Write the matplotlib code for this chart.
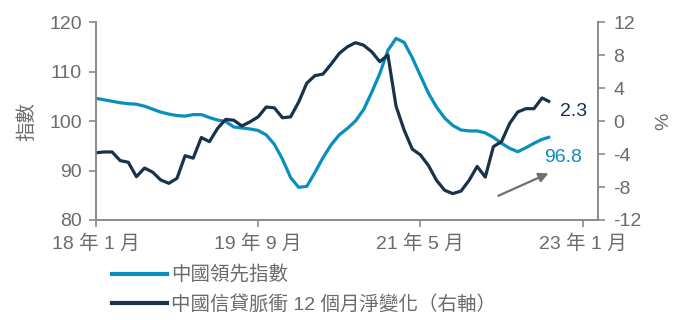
import numpy as np
import matplotlib.pyplot as plt
from matplotlib.lines import Line2D

plt.rcParams['font.family'] = ['Liberation Sans', 'Noto Sans CJK TC']
plt.rcParams['axes.unicode_minus'] = False

# 月份序號：0 = 18年1月
months = np.arange(57)

# 中國領先指數（左軸）
leading_index = [104.6, 104.3, 104.0, 103.7, 103.5, 103.4, 103.0, 102.4, 101.8, 101.4,
                 101.1, 101.0, 101.3, 101.3, 100.7, 100.2, 99.9, 98.8, 98.6, 98.4,
                 98.1, 97.2, 95.3, 92.3, 88.6, 86.6, 86.8, 89.6, 92.6, 95.2,
                 97.2, 98.5, 100.0, 102.3, 105.8, 109.6, 114.3, 116.7, 115.9, 112.8,
                 109.2, 105.6, 102.8, 100.6, 99.1, 98.2, 98.0, 98.0, 97.6, 96.7,
                 95.5, 94.5, 93.8, 94.6, 95.5, 96.3, 96.8]

# 中國信貸脈衝 12 個月淨變化（右軸，%）
credit_impulse = [-3.85, -3.75, -3.75, -4.8, -5.0, -6.75, -5.7, -6.2, -7.15, -7.55,
                  -6.95, -4.2, -4.5, -2.0, -2.5, -0.9, 0.2, 0.1, -0.6, -0.1,
                  0.5, 1.7, 1.6, 0.4, 0.5, 2.3, 4.6, 5.5, 5.7, 6.9,
                  8.2, 9.0, 9.5, 9.2, 8.4, 7.2, 8.0, 1.8, -1.1, -3.4,
                  -4.1, -5.4, -7.2, -8.4, -8.8, -8.5, -7.2, -5.5, -6.8, -3.1,
                  -2.5, -0.3, 1.1, 1.5, 1.5, 2.8, 2.3]

tick_pos = [0, 20, 40, 60]
tick_labels = ['18 年 1 月', '19 年 9 月', '21 年 5 月', '23 年 1 月']

blue = '#0a8dbf'
navy = '#17324a'
grey = '#6b6b6b'
spine = '#8a8a8a'

fig = plt.figure(figsize=(6.75, 3.2), dpi=100)
ax = fig.add_axes([0.142, 0.3125, 0.744, 0.6185])
ax2 = ax.twinx()

ax.plot(months, leading_index, color=blue, lw=2.3, solid_capstyle='butt')
ax2.plot(months, credit_impulse, color=navy, lw=2.3, solid_capstyle='butt')

ax.set_xlim(0, 61.9)
ax.set_ylim(80, 120)
ax.set_yticks([80, 90, 100, 110, 120])
ax2.set_ylim(-12, 12)
ax2.set_yticks([-12, -8, -4, 0, 4, 8, 12])
ax.set_xticks(tick_pos)
ax.set_xticklabels(tick_labels)

for a in (ax, ax2):
    a.spines['top'].set_visible(False)
    for s in ('left', 'right', 'bottom'):
        a.spines[s].set_color(spine)
        a.spines[s].set_linewidth(1.2)
    a.tick_params(colors=grey, labelsize=14, length=5, width=1.2, color=spine)
ax.tick_params(axis='y', pad=5)
ax2.tick_params(axis='y', pad=6)
ax.tick_params(axis='x', pad=5)

ax.set_ylabel('指數', color=grey, fontsize=14, labelpad=9)
ax2.set_ylabel('%', color=grey, fontsize=14, labelpad=10)

# 末值標註
ax2.text(57.2, credit_impulse[-1] - 1.2, '2.3', color=navy, fontsize=14, ha='left', va='center')
ax.text(55.2, 92.6, '96.8', color=blue, fontsize=14, ha='left', va='center')
ax2.annotate('', xy=(56.1, -6.2), xytext=(49.3, -9.2),
             arrowprops=dict(arrowstyle='-|>', color='#707070', lw=1.6, mutation_scale=14))

handles = [Line2D([], [], color=blue, lw=3),
           Line2D([], [], color=navy, lw=3)]
fig.legend(handles, ['中國領先指數', '中國信貸脈衝 12 個月淨變化（右軸）'],
           loc='upper left', bbox_to_anchor=(0.155, 0.195), frameon=False,
           fontsize=14, labelcolor=grey, handlelength=2.8, handletextpad=0.2,
           labelspacing=0.55, borderaxespad=0)

fig.savefig('out.png', dpi=100)
